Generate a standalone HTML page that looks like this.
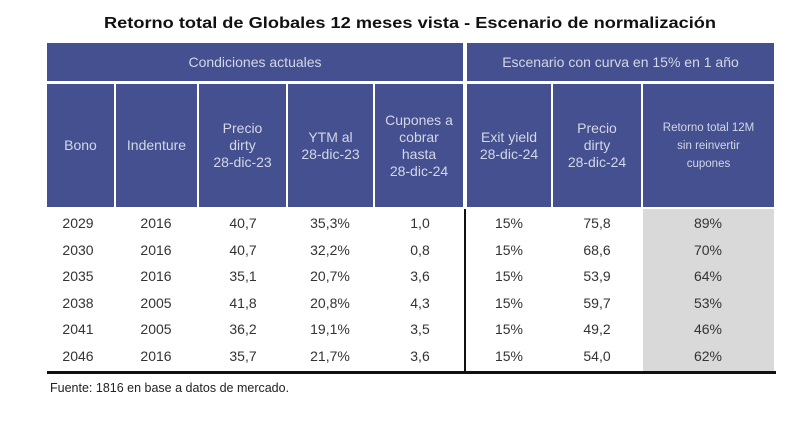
<!DOCTYPE html>
<html><head><meta charset="utf-8"><style>
body{margin:0;width:800px;height:421px;background:#fff;position:relative;overflow:hidden;font-family:"Liberation Sans",sans-serif}
.a{position:absolute}
.h{position:absolute;background:#44508f;color:#d4d7e6;display:flex;align-items:center;justify-content:center;text-align:center;font-size:14px;line-height:17px}
.c{position:absolute;font-size:14px;color:#333;text-align:center;line-height:16px}
</style></head><body>
<svg class="a" style="left:0;top:0" width="800" height="40"><text x="410" y="28" text-anchor="middle" font-family="Liberation Sans" font-weight="bold" font-size="16" fill="#111" textLength="612" lengthAdjust="spacingAndGlyphs">Retorno total de Globales 12 meses vista - Escenario de normalización</text></svg>
<div class="h" style="left:47px;top:43px;width:416px;height:38px">Condiciones actuales</div>
<div class="h" style="left:467px;top:43px;width:307px;height:38px">Escenario con curva en 15% en 1 año</div>
<div id="hdr"></div>
<div class="a" style="left:643px;top:209px;width:131px;height:162px;background:#d9d9d9"></div>
<div class="a" style="left:464px;top:209px;width:2px;height:163px;background:#111"></div>
<div id="body"></div>
<div class="a" style="left:47px;top:371px;width:729px;height:3px;background:#111"></div>
<div class="a" style="left:50px;top:381px;font-size:12.5px;color:#222">Fuente: 1816 en base a datos de mercado.</div>
<script>
const headers=["Bono","Indenture","Precio<br>dirty<br>28-dic-23","YTM al<br>28-dic-23","Cupones a<br>cobrar<br>hasta<br>28-dic-24","Exit yield<br>28-dic-24","Precio<br>dirty<br>28-dic-24","Retorno total 12M<br>sin reinvertir<br>cupones"];
const bonos=["2029","2030","2035","2038","2041","2046"];
const indenture=["2016","2016","2016","2005","2005","2016"];
const precio23=["40,7","40,7","35,1","41,8","36,2","35,7"];
const ytm=["35,3%","32,2%","20,7%","20,8%","19,1%","21,7%"];
const cupones=["1,0","0,8","3,6","4,3","3,5","3,6"];
const exitY=["15%","15%","15%","15%","15%","15%"];
const precio24=["75,8","68,6","53,9","59,7","49,2","54,0"];
const retorno=["89%","70%","64%","53%","46%","62%"];
const colL=[47,116,199,288,375,467,553,643],colR=[114,197,286,373,463,551,641,774];
const hn=["hdr-bono","hdr-indenture","hdr-precio-23","hdr-ytm","hdr-cupones","hdr-exit-yield","hdr-precio-24","hdr-retorno"];
const H=document.getElementById('hdr');
headers.forEach((t,i)=>{const d=document.createElement('div');d.className='h';
d.style.cssText=`left:${colL[i]}px;top:84px;width:${colR[i]-colL[i]}px;height:123px;${i==7?'font-size:11.5px;line-height:18px;':''}`;
d.innerHTML=t;


H.appendChild(d);});
const cols=[bonos,indenture,precio23,ytm,cupones,exitY,precio24,retorno];
const cn=["bono","indenture","precio-23","ytm","cupones","exit-yield","precio-24","retorno"];
const B=document.getElementById('body');
const cx=[78,156,243,330,420,509,597,708];
bonos.forEach((_,r)=>{cols.forEach((arr,i)=>{const d=document.createElement('div');d.className='c';
d.style.cssText=`left:${cx[i]-45}px;width:90px;top:${215+r*26.6}px`;
d.textContent=arr[r];


B.appendChild(d);});});
</script>
</body></html>
